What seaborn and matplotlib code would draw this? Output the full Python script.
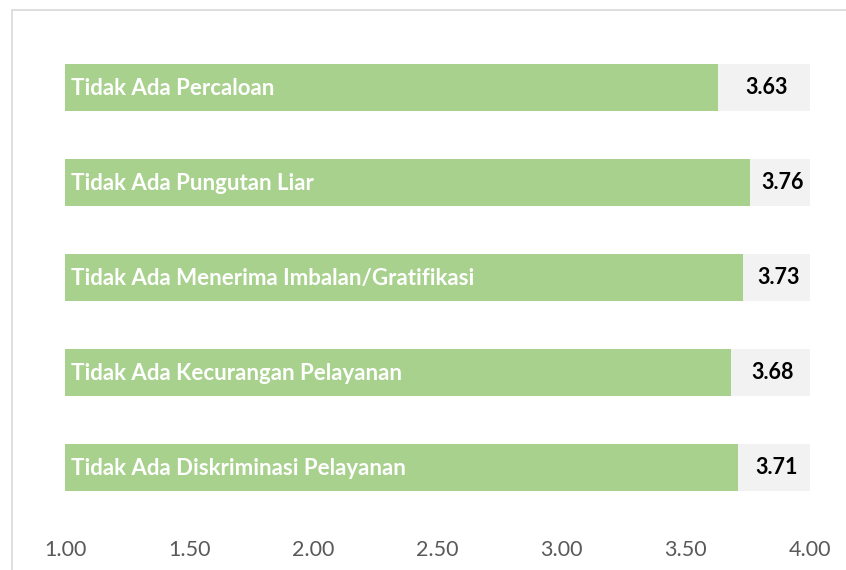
import matplotlib.pyplot as plt
import pandas as pd
import seaborn as sns
from matplotlib.lines import Line2D

# === Data ===
categories = [
    "Tidak Ada Percaloan",
    "Tidak Ada Pungutan Liar",
    "Tidak Ada Menerima Imbalan/Gratifikasi",
    "Tidak Ada Kecurangan Pelayanan",
    "Tidak Ada Diskriminasi Pelayanan",
]
scores = [3.63, 3.76, 3.73, 3.68, 3.71]
scale_max = 4.00
x_ticks = [1.00, 1.50, 2.00, 2.50, 3.00, 3.50, 4.00]

# === Style ===
plt.switch_backend("Agg")
sns.set_style("white")
plt.rcParams["font.family"] = ["Lato", "DejaVu Sans"]

GREEN = "#A9D18E"
TRACK = "#F2F2F2"

df = pd.DataFrame({"aspek": categories, "skor": scores})
df["maks"] = scale_max

fig = plt.figure(figsize=(8.46, 5.70), dpi=100)
ax = fig.add_axes([65 / 846, 1 - 515 / 570, 745 / 846, 475 / 570])

# background track then the score bars
sns.barplot(data=df, x="maks", y="aspek", orient="h", color=TRACK,
            width=0.5, saturation=1, linewidth=0, ax=ax)
sns.barplot(data=df, x="skor", y="aspek", orient="h", color=GREEN,
            width=0.5, saturation=1, linewidth=0, ax=ax)

ax.set_xlim(1, 4)
ax.set_xticks(x_ticks)
ax.set_xticklabels([f"{t:.2f}" for t in x_ticks], fontsize=15.5, color="#595959")
ax.set_yticks([])
ax.set_xlabel("")
ax.set_ylabel("")
ax.tick_params(axis="x", length=0, pad=18)
sns.despine(ax=ax, left=True, bottom=True)

for i, (name, val) in enumerate(zip(categories, scores)):
    ax.annotate(name, xy=(1, i), xytext=(4, -1), textcoords="offset points",
                ha="left", va="center", color="white", fontsize=16,
                fontweight="bold")
    ax.text((val + scale_max) / 2 + 0.01, i, f"{val:.2f}", ha="center",
            va="center", color="black", fontsize=15.5, fontweight="bold")

# chart frame (left and top edges visible)
fig.add_artist(Line2D([12 / 846, 12 / 846], [0, 1 - 10 / 570],
                      transform=fig.transFigure, color="#D9D9D9", lw=1.2))
fig.add_artist(Line2D([12 / 846, 1], [1 - 10 / 570, 1 - 10 / 570],
                      transform=fig.transFigure, color="#D9D9D9", lw=1.2))

fig.savefig("out.png", dpi=100)
